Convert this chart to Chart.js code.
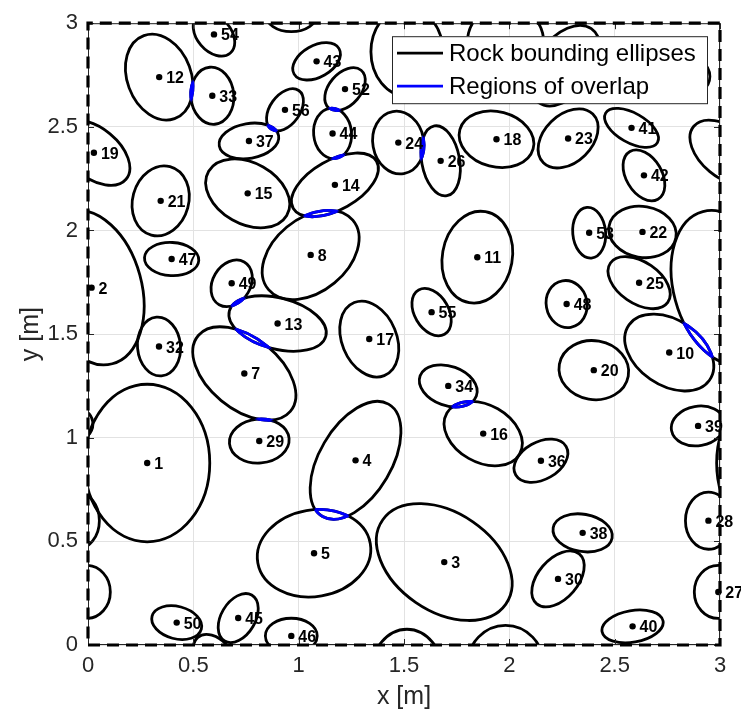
<!DOCTYPE html>
<html>
<head>
<meta charset="utf-8">
<script src="https://cdn.jsdelivr.net/npm/chart.js@4.4.1/dist/chart.umd.min.js"></script>
<style>
  html, body { margin: 0; padding: 0; background: #fff; }
  #wrap { width: 741px; height: 723px; }
</style>
</head>
<body>
<div id="wrap"><canvas id="rocks" width="741" height="723"></canvas></div>
<script>
// rock bounding ellipses: centre [m], semi-axes [m], tilt of first axis from +x [deg]
const rockIds = [1, 2, 3, 4, 5, 7, 8, 9, 10, 11, 12, 13, 14, 15, 16, 17, 18, 19, 20, 21,
  22, 23, 24, 25, 26, 27, 28, 29, 30, 31, 32, 33, 34, 35, 36, 37, 38, 39, 40, 41,
  42, 43, 44, 45, 46, 47, 48, 49, 50, 51, 52, 53, 54, 55, 56];
const rockX = [0.281, 0.017, 1.691, 1.270, 1.073, 0.742, 1.057, 1.514, 2.759, 1.848,
  0.338, 0.900, 1.172, 0.758, 1.876, 1.335, 1.939, 0.028, 2.401, 0.345,
  2.632, 2.279, 1.473, 2.616, 1.674, 2.992, 2.945, 0.813, 2.231, 2.264,
  0.337, 0.590, 1.710, 1.982, 2.150, 0.764, 2.348, 2.896, 2.585, 2.580,
  2.639, 1.085, 1.161, 0.713, 0.965, 0.397, 2.272, 0.682, 0.421, 2.819,
  1.220, 2.379, 0.598, 1.631, 0.935];
const rockY = [0.878, 1.724, 0.400, 0.891, 0.443, 1.310, 1.882, 2.862, 1.411, 1.871,
  2.740, 1.551, 2.220, 2.179, 1.020, 1.476, 2.440, 2.375, 1.326, 2.143,
  1.993, 2.444, 2.424, 1.748, 2.336, 0.256, 0.600, 0.984, 0.319, 2.795,
  1.440, 2.650, 1.250, 2.900, 0.889, 2.432, 0.541, 1.057, 0.090, 2.495,
  2.266, 2.816, 2.468, 0.130, 0.044, 1.862, 1.645, 1.745, 0.108, 2.743,
  2.682, 1.989, 2.946, 1.606, 2.582];
const semiA = [0.380, 0.380, 0.356, 0.313, 0.271, 0.285, 0.261, 0.214, 0.233, 0.223,
  0.213, 0.237, 0.228, 0.214, 0.199, 0.190, 0.180, 0.199, 0.166, 0.171,
  0.161, 0.166, 0.152, 0.166, 0.171, 0.128, 0.138, 0.142, 0.157, 0.218,
  0.142, 0.138, 0.142, 0.195, 0.138, 0.143, 0.142, 0.128, 0.147, 0.142,
  0.133, 0.123, 0.122, 0.128, 0.123, 0.129, 0.114, 0.119, 0.121, 0.133,
  0.119, 0.123, 0.119, 0.123, 0.114];
const semiB = [0.297, 0.237, 0.237, 0.171, 0.209, 0.171, 0.176, 0.171, 0.157, 0.166,
  0.152, 0.123, 0.119, 0.147, 0.138, 0.130, 0.133, 0.119, 0.142, 0.133,
  0.123, 0.114, 0.121, 0.100, 0.090, 0.114, 0.109, 0.106, 0.095, 0.133,
  0.102, 0.102, 0.095, 0.182, 0.090, 0.084, 0.090, 0.095, 0.076, 0.071,
  0.085, 0.076, 0.090, 0.081, 0.085, 0.080, 0.097, 0.090, 0.078, 0.104,
  0.076, 0.078, 0.081, 0.081, 0.071];
const tiltDeg = [90, 105, -35, 60, 10, -40, 40, 90, -35, 80,
  110, -15, 30, -30, -30, 112, -15, -40, -10, 75,
  -10, 45, 100, -35, 100, 90, 90, 5, 50, 55,
  95, 95, -20, 90, 30, 10, -10, 10, 10, -30,
  120, 30, 95, 60, 0, -3, 100, 60, -15, 0,
  50, 95, 130, 120, 55];

// rocks whose outlines intersect
const overlapA = [12, 37, 44, 14, 8, 24, 13, 7, 7, 16, 4, 2];
const overlapB = [33, 56, 52, 44, 14, 26, 49, 13, 29, 34, 5, 10];

const tickValues = [0, 0.5, 1, 1.5, 2, 2.5, 3];
const tickLabels = ['0', '0.5', '1', '1.5', '2', '2.5', '3'];
const legendLabels = ['Rock bounding ellipses', 'Regions of overlap'];

const boxSize = 3; // periodic domain, rocks wrap across the edges
const shifts = [-boxSize, 0, boxSize];
const FONT = "Arial, 'Liberation Sans', Helvetica, sans-serif";

// build an ellipse path in data units, then drop back to pixel space
function tracePath(chart, k, sx, sy) {
  const ctx = chart.ctx, xs = chart.scales.x, ys = chart.scales.y;
  const ux = xs.getPixelForValue(1) - xs.getPixelForValue(0);
  const uy = ys.getPixelForValue(1) - ys.getPixelForValue(0);
  ctx.save();
  ctx.translate(xs.getPixelForValue(rockX[k] + sx), ys.getPixelForValue(rockY[k] + sy));
  ctx.scale(ux, uy);
  ctx.rotate(tiltDeg[k] * Math.PI / 180);
  ctx.beginPath();
  ctx.ellipse(0, 0, semiA[k], semiB[k], 0, 0, 2 * Math.PI);
  ctx.restore();
}

function clipArea(chart) {
  const a = chart.chartArea;
  chart.ctx.beginPath();
  chart.ctx.rect(a.left, a.top, a.right - a.left, a.bottom - a.top);
  chart.ctx.clip();
}

const rockOutlines = {
  id: 'rockOutlines',
  beforeDatasetsDraw(chart) {
    const ctx = chart.ctx;
    ctx.save();
    clipArea(chart);
    ctx.lineWidth = 2.8;
    ctx.strokeStyle = '#000';
    rockIds.forEach((id, k) => {
      shifts.forEach(sx => shifts.forEach(sy => {
        tracePath(chart, k, sx, sy);
        ctx.stroke();
      }));
    });

    // overlap lens: each outline stroked only inside the other one
    ctx.strokeStyle = '#0000ff';
    const lens = (i, ix, iy, j, jx, jy) => {
      ctx.save();
      tracePath(chart, i, ix, iy);
      ctx.clip();
      tracePath(chart, j, jx, jy);
      ctx.stroke();
      ctx.restore();
    };
    overlapA.forEach((idA, n) => {
      const i = rockIds.indexOf(idA), j = rockIds.indexOf(overlapB[n]);
      const reach = semiA[i] + semiA[j];
      shifts.forEach(ix => shifts.forEach(iy => shifts.forEach(jx => shifts.forEach(jy => {
        const dx = rockX[i] + ix - rockX[j] - jx, dy = rockY[i] + iy - rockY[j] - jy;
        if (Math.hypot(dx, dy) > reach) return;
        lens(i, ix, iy, j, jx, jy);
        lens(j, jx, jy, i, ix, iy);
      }))));
    });
    ctx.restore();
  },
  afterDatasetsDraw(chart) {
    const ctx = chart.ctx, xs = chart.scales.x, ys = chart.scales.y;
    ctx.save();
    ctx.fillStyle = '#000';
    ctx.font = 'bold 16px ' + FONT;
    ctx.textAlign = 'left';
    ctx.textBaseline = 'alphabetic';
    rockIds.forEach((id, k) => {
      ctx.fillText(String(id), xs.getPixelForValue(rockX[k]) + 7, ys.getPixelForValue(rockY[k]) + 6);
    });
    ctx.restore();
  },
  afterDraw(chart) {
    const ctx = chart.ctx, xs = chart.scales.x, ys = chart.scales.y, a = chart.chartArea;
    ctx.save();
    // axes box
    ctx.strokeStyle = '#262626';
    ctx.lineWidth = 1;
    ctx.strokeRect(a.left + 0.5, a.top + 0.5, a.right - a.left - 1, a.bottom - a.top - 1);
    // inward tick marks
    ctx.beginPath();
    tickValues.forEach(v => {
      const px = Math.round(xs.getPixelForValue(v)) + 0.5;
      const py = Math.round(ys.getPixelForValue(v)) + 0.5;
      ctx.moveTo(px, a.bottom); ctx.lineTo(px, a.bottom - 6);
      ctx.moveTo(px, a.top); ctx.lineTo(px, a.top + 6);
      ctx.moveTo(a.left, py); ctx.lineTo(a.left + 6, py);
      ctx.moveTo(a.right, py); ctx.lineTo(a.right - 6, py);
    });
    ctx.stroke();

    // dashed domain boundary
    const x0 = xs.getPixelForValue(0), x1 = xs.getPixelForValue(boxSize);
    const y0 = ys.getPixelForValue(0), y1 = ys.getPixelForValue(boxSize);
    ctx.strokeStyle = '#000';
    ctx.lineWidth = 3.2;
    ctx.setLineDash([12, 7]);
    ctx.beginPath();
    ctx.moveTo(x0, y0); ctx.lineTo(x1, y0); ctx.lineTo(x1, y1); ctx.lineTo(x0, y1); ctx.closePath();
    ctx.stroke();
    ctx.setLineDash([]);

    // legend
    const lx = a.right - 328, ly = a.top + 13, lw = 315, lh = 67;
    ctx.fillStyle = '#fff';
    ctx.fillRect(lx, ly, lw, lh);
    ctx.strokeStyle = '#262626';
    ctx.lineWidth = 1;
    ctx.strokeRect(lx + 0.5, ly + 0.5, lw, lh);
    const colors = ['#000', '#0000ff'];
    ctx.font = '24px ' + FONT;
    ctx.textBaseline = 'middle';
    ctx.textAlign = 'left';
    legendLabels.forEach((txt, n) => {
      const cy = ly + 17 + n * 33;
      ctx.strokeStyle = colors[n];
      ctx.lineWidth = 2.8;
      ctx.beginPath();
      ctx.moveTo(lx + 5, cy); ctx.lineTo(lx + 51, cy);
      ctx.stroke();
      ctx.fillStyle = '#000';
      ctx.fillText(txt, lx + 57, cy + 1);
    });
    ctx.restore();
  }
};

const axisCommon = {
  type: 'linear',
  min: 0,
  max: boxSize,
  afterBuildTicks(scale) { scale.ticks = tickValues.map(v => ({ value: v })); },
  grid: { color: '#e2e2e2', lineWidth: 1, drawTicks: false },
  border: { display: false }
};

new Chart(document.getElementById('rocks'), {
  type: 'scatter',
  data: {
    datasets: [{
      data: rockIds.map((id, k) => ({ x: rockX[k], y: rockY[k] })),
      pointRadius: 3.2,
      pointBackgroundColor: '#000',
      pointBorderWidth: 0,
      clip: false
    }]
  },
  options: {
    responsive: false,
    animation: false,
    events: [],
    layout: { padding: { top: 13, right: 21, left: 0, bottom: 0 } },
    plugins: { legend: { display: false }, tooltip: { enabled: false } },
    scales: {
      x: {
        ...axisCommon,
        ticks: {
          padding: 8,
          color: '#262626',
          font: { size: 22, family: FONT },
          maxRotation: 0,
          callback: (v) => tickLabels[tickValues.indexOf(v)]
        },
        title: { display: true, text: 'x [m]', color: '#262626', font: { size: 25, family: FONT }, padding: { top: 0, bottom: 11 } },
        afterFit(scale) { scale.height = 78; }
      },
      y: {
        ...axisCommon,
        ticks: {
          padding: 10,
          color: '#262626',
          font: { size: 22, family: FONT },
          callback: (v) => tickLabels[tickValues.indexOf(v)]
        },
        title: { display: true, text: 'y [m]', color: '#262626', font: { size: 25, family: FONT }, padding: { top: 16, bottom: 0 } },
        afterFit(scale) { scale.width = 88; }
      }
    }
  },
  plugins: [rockOutlines]
});
</script>
</body>
</html>
